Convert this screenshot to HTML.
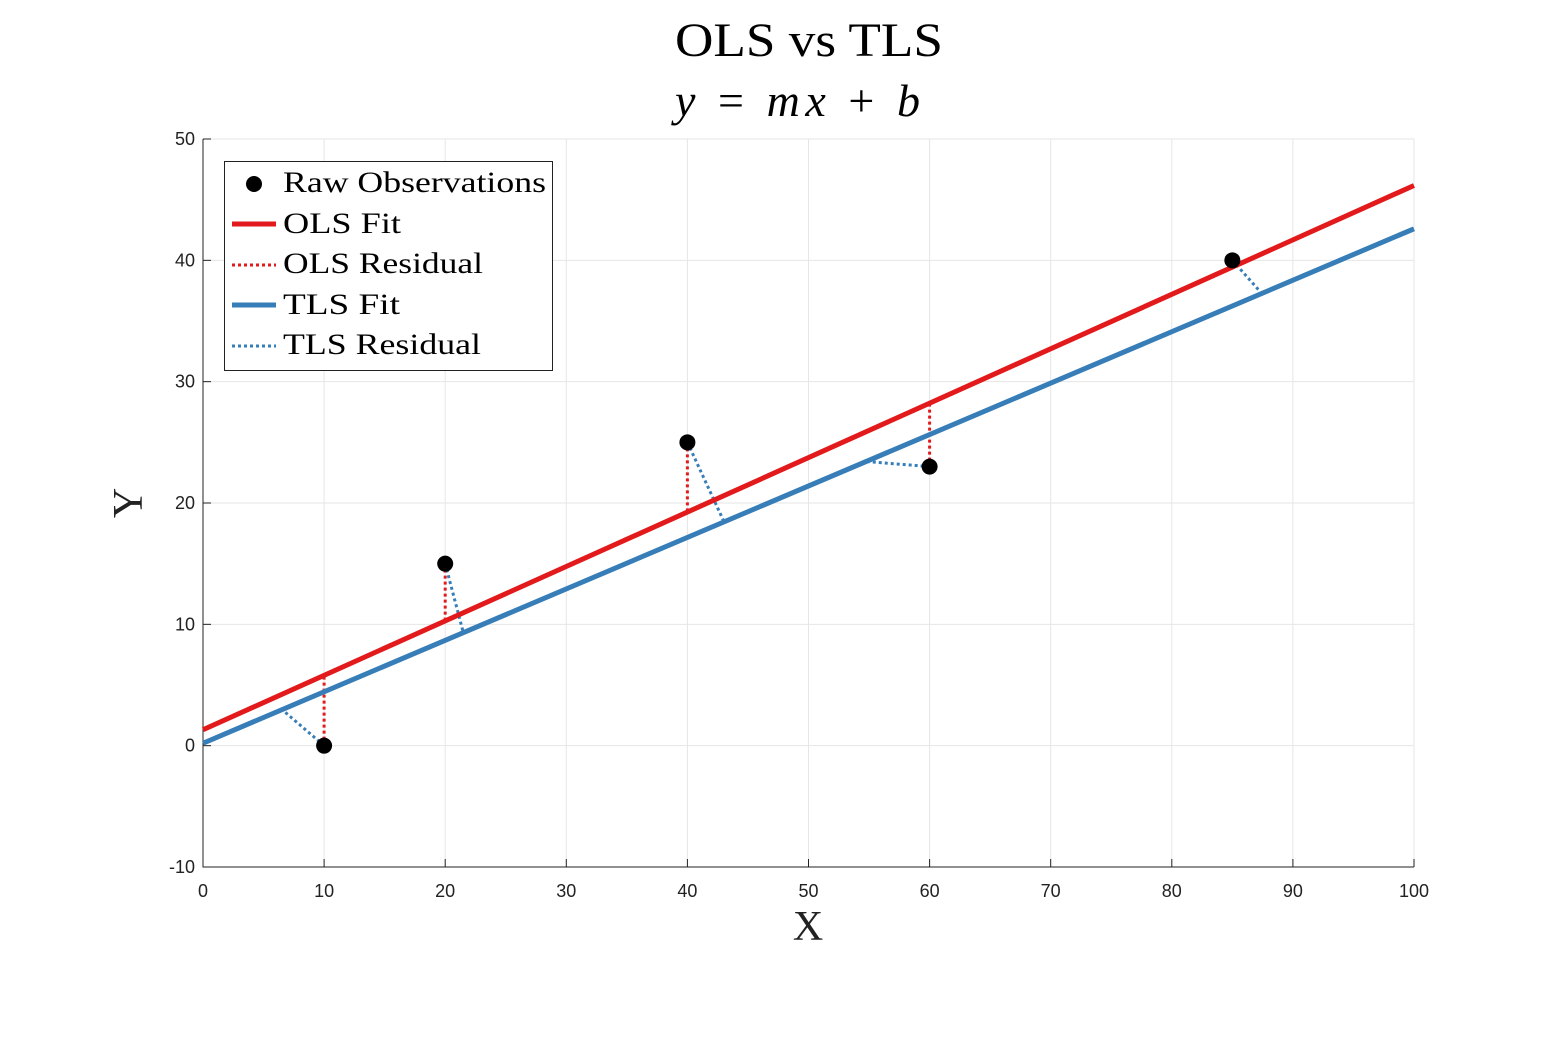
<!DOCTYPE html>
<html><head><meta charset="utf-8"><style>
html,body{margin:0;padding:0;background:#fff;}
svg{display:block;}
</style></head><body>
<svg id="chart" width="1563" height="1042" xmlns="http://www.w3.org/2000/svg">
<text x="675" y="56" textLength="268" lengthAdjust="spacingAndGlyphs" font-family="Liberation Serif, serif" font-size="48" fill="#000">OLS vs TLS</text>
<text x="675" y="116" textLength="245" lengthAdjust="spacing" font-family="Liberation Serif, serif" font-size="46" font-style="italic" fill="#000">y <tspan font-style="normal">=</tspan> mx <tspan font-style="normal">+</tspan> b</text>
<g id="grid"></g>
<g id="axes"></g>
<g id="marks"></g>
<text x="808" y="940" text-anchor="middle" font-family="Liberation Serif, serif" font-size="42" fill="#222">X</text>
<text transform="translate(142,503) rotate(-90)" text-anchor="middle" font-family="Liberation Serif, serif" font-size="42" fill="#222">Y</text>
<g>
<rect x="224.5" y="161.5" width="328" height="209" fill="#fff" stroke="#222" stroke-width="1"/>
<circle cx="254" cy="184" r="8" fill="#000"/>
<line x1="232" y1="224" x2="276" y2="224" stroke="#e31a1c" stroke-width="5"/>
<line x1="232" y1="265" x2="276" y2="265" stroke="#e31a1c" stroke-width="3" stroke-dasharray="3,3"/>
<line x1="232" y1="305" x2="276" y2="305" stroke="#377eb8" stroke-width="5"/>
<line x1="232" y1="346" x2="276" y2="346" stroke="#377eb8" stroke-width="3" stroke-dasharray="3,3"/>
<g font-family="Liberation Serif, serif" font-size="30" fill="#000">
<text x="283" y="192" textLength="263" lengthAdjust="spacingAndGlyphs">Raw Observations</text>
<text x="283" y="233" textLength="118" lengthAdjust="spacingAndGlyphs">OLS Fit</text>
<text x="283" y="273" textLength="200" lengthAdjust="spacingAndGlyphs">OLS Residual</text>
<text x="283" y="314" textLength="117" lengthAdjust="spacingAndGlyphs">TLS Fit</text>
<text x="283" y="354" textLength="198" lengthAdjust="spacingAndGlyphs">TLS Residual</text>
</g></g>
</svg>
<script>
const xs = [10, 20, 40, 60, 85];
const ys = [0, 15, 25, 23, 40];
const olsLine = [1.31, 0.4486];   // intercept, slope
const tlsLine = [0.2, 0.424];
const tlsFootX = [6.5, 21.5, 43, 55, 87.5];
const tlsFootY = [3.0, 9.3, 18.5, 23.4, 37.2];
const xTicks = [0,10,20,30,40,50,60,70,80,90,100];
const yTicks = [-10,0,10,20,30,40,50];

const NS='http://www.w3.org/2000/svg';
const X0=203, X1=1414, Y0=867, Y1=139;
const sx = v => X0 + (v-0)/(100-0)*(X1-X0);
const sy = v => Y0 - (v+10)/(60)*(Y0-Y1);
function mk(tag, attrs, parent){const e=document.createElementNS(NS,tag);for(const k in attrs)e.setAttribute(k,attrs[k]);document.getElementById(parent).appendChild(e);return e;}

xTicks.forEach(t=>{
  const g=mk('line',{x1:sx(t),x2:sx(t),y1:Y1,y2:Y0,stroke:'#e6e6e6','stroke-width':1},'grid');
  
  
  mk('line',{x1:sx(t),x2:sx(t),y1:Y0,y2:Y0-8,stroke:'#222','stroke-width':1},'axes');
  const l=mk('text',{x:sx(t),y:Y0+30,'text-anchor':'middle','font-family':'Liberation Sans, sans-serif','font-size':18,fill:'#222'},'axes');
  l.textContent=t;
  
  
});
yTicks.forEach(t=>{
  const g=mk('line',{x1:X0,x2:X1,y1:sy(t),y2:sy(t),stroke:'#e6e6e6','stroke-width':1},'grid');
  
  
  mk('line',{x1:X0,x2:X0+8,y1:sy(t),y2:sy(t),stroke:'#222','stroke-width':1},'axes');
  const l=mk('text',{x:X0-8,y:sy(t)+6,'text-anchor':'end','font-family':'Liberation Sans, sans-serif','font-size':18,fill:'#222'},'axes');
  l.textContent=t;
  
  
});
const ax=mk('path',{d:`M${X0} ${Y1}V${Y0}H${X1}`,fill:'none',stroke:'#222','stroke-width':1},'axes');



xs.forEach((x,i)=>{
  const r=mk('line',{x1:sx(x),y1:sy(ys[i]),x2:sx(x),y2:sy(olsLine[0]+olsLine[1]*x),stroke:'#e31a1c','stroke-width':3,'stroke-dasharray':'3,3'},'marks');
  
  
});
xs.forEach((x,i)=>{
  const r=mk('line',{x1:sx(x),y1:sy(ys[i]),x2:sx(tlsFootX[i]),y2:sy(tlsFootY[i]),stroke:'#377eb8','stroke-width':3,'stroke-dasharray':'3,3'},'marks');
  
  
});
const tl=mk('line',{x1:sx(0),y1:sy(tlsLine[0]),x2:sx(100),y2:sy(tlsLine[0]+tlsLine[1]*100),stroke:'#377eb8','stroke-width':5},'marks');


const ol=mk('line',{x1:sx(0),y1:sy(olsLine[0]),x2:sx(100),y2:sy(olsLine[0]+olsLine[1]*100),stroke:'#e31a1c','stroke-width':5},'marks');


xs.forEach((x,i)=>{
  const c=mk('circle',{cx:sx(x),cy:sy(ys[i]),r:8,fill:'#000'},'marks');
  
  
});
</script>
</body></html>
